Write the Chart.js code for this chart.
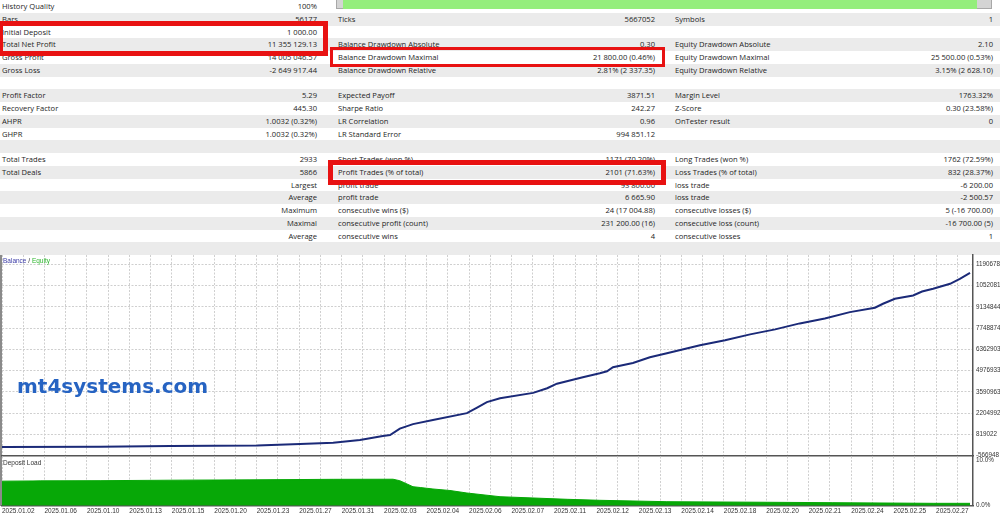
<!DOCTYPE html>
<html>
<head>
<meta charset="utf-8">
<script src="https://cdn.jsdelivr.net/npm/chart.js@4.4.1/dist/chart.umd.min.js"></script>
<style>
body { margin: 0; width: 1000px; height: 517px; overflow: hidden; background: #fff; position: relative; font-family: 'Open Sans', sans-serif; }
.row { position: absolute; left: 0; width: 1000px; height: 12.75px; }
.row.g { background: #ebebeb; }
.t { position: absolute; top: 0; line-height: 12.75px; font-size: 7.6px; color: #1e1e1e; white-space: nowrap; }
.box { position: absolute; box-sizing: border-box; border: 5px solid #e81212; }
.lbl { position: absolute; font-family: 'Liberation Sans', sans-serif; font-size: 6.5px; line-height: 8px; color: #333; white-space: nowrap; }
#bal, #load { position: absolute; left: 0; }
</style>
</head>
<body>
<div id="table"></div>
<div style="position:absolute;left:336px;top:-1px;width:656px;height:10px;border:1px solid #a8a8a8;background:#d4d4d4;box-sizing:border-box"></div>
<div style="position:absolute;left:343px;top:0;width:634px;height:8.5px;background:#94ee7c"></div>

<div style="position:absolute;left:0;top:255px;width:2px;height:251px;background:#8a8a8a"></div>
<canvas id="bal" width="1000" height="203" style="top:254px"></canvas>
<canvas id="load" width="1000" height="61" style="top:456px"></canvas>
<div class="lbl" style="left:3px;top:256.5px"><span style="color:#3b3ba6">Balance</span> / <span style="color:#2cb52c">Equity</span></div>
<div class="lbl" style="left:3px;top:458.5px">Deposit Load</div>
<div style="position:absolute;left:17px;top:376.4px;font-family:'DejaVu Sans',sans-serif;font-weight:bold;font-size:20px;line-height:20px;color:#2663c2">mt4systems.com</div>

<div class="box" style="left:-2px;top:21px;width:330px;height:35px"></div>
<div class="box" style="left:330px;top:47px;width:335px;height:20px;border-width:3.5px"></div>
<div class="box" style="left:328px;top:160px;width:338px;height:24.5px"></div>

<script>
// report table: label, value, label, value, label, value
const tableRows = [
    ['History Quality', '100%', '', '', '', ''],
    ['Bars', '56177', 'Ticks', '5667052', 'Symbols', '1'],
    ['Initial Deposit', '1 000.00', '', '', '', ''],
    ['Total Net Profit', '11 355 129.13', 'Balance Drawdown Absolute', '0.30', 'Equity Drawdown Absolute', '2.10'],
    ['Gross Profit', '14 005 046.57', 'Balance Drawdown Maximal', '21 800.00 (0.46%)', 'Equity Drawdown Maximal', '25 500.00 (0.53%)'],
    ['Gross Loss', '-2 649 917.44', 'Balance Drawdown Relative', '2.81% (2 337.35)', 'Equity Drawdown Relative', '3.15% (2 628.10)'],
    ['', '', '', '', '', ''],
    ['Profit Factor', '5.29', 'Expected Payoff', '3871.51', 'Margin Level', '1763.32%'],
    ['Recovery Factor', '445.30', 'Sharpe Ratio', '242.27', 'Z-Score', '0.30 (23.58%)'],
    ['AHPR', '1.0032 (0.32%)', 'LR Correlation', '0.96', 'OnTester result', '0'],
    ['GHPR', '1.0032 (0.32%)', 'LR Standard Error', '994 851.12', '', ''],
    ['', '', '', '', '', ''],
    ['Total Trades', '2933', 'Short Trades (won %)', '1171 (70.20%)', 'Long Trades (won %)', '1762 (72.59%)'],
    ['Total Deals', '5866', 'Profit Trades (% of total)', '2101 (71.63%)', 'Loss Trades (% of total)', '832 (28.37%)'],
    ['', 'Largest', 'profit trade', '93 800.00', 'loss trade', '-6 200.00'],
    ['', 'Average', 'profit trade', '6 665.90', 'loss trade', '-2 500.57'],
    ['', 'Maximum', 'consecutive wins ($)', '24 (17 004.88)', 'consecutive losses ($)', '5 (-16 700.00)'],
    ['', 'Maximal', 'consecutive profit (count)', '231 200.00 (16)', 'consecutive loss (count)', '-16 700.00 (5)'],
    ['', 'Average', 'consecutive wins', '4', 'consecutive losses', '1'],
    ['', '', '', '', '', '']
];

const dateLabels = ['2025.01.02', '2025.01.06', '2025.01.10', '2025.01.13', '2025.01.15', '2025.01.20',
    '2025.01.23', '2025.01.27', '2025.01.31', '2025.02.03', '2025.02.04', '2025.02.06', '2025.02.07',
    '2025.02.11', '2025.02.12', '2025.02.13', '2025.02.14', '2025.02.18', '2025.02.20', '2025.02.21',
    '2025.02.24', '2025.02.25', '2025.02.27'];

// x is measured in date-label slots (0 = 2025.01.02)
const balanceX = [0, 2.31, 3.96, 6.01, 7.02, 7.80, 8.43, 8.97, 9.14, 9.37, 9.68, 10.15, 10.95, 11.19,
    11.42, 11.73, 12.51, 12.84, 13.07, 13.68, 14.08, 14.25, 14.39, 14.86, 15.26, 15.66, 16.44, 17.03,
    17.62, 18.21, 18.79, 19.38, 19.97, 20.56, 20.75, 21.03, 21.46, 21.67, 21.93, 22.33, 22.56, 22.80];
const balanceY = [1000, 12000, 58000, 90000, 188000, 272000, 448000, 708000, 773000, 1196000, 1489000,
    1750000, 2205000, 2563000, 2921000, 3181000, 3526000, 3832000, 4125000, 4547000, 4808000, 4938000,
    5198000, 5478000, 5849000, 6109000, 6630000, 6955000, 7345000, 7671000, 8061000, 8387000, 8796000,
    9083000, 9343000, 9668000, 9883000, 10143000, 10319000, 10644000, 10970000, 11356129];

const loadX = [0, 0.73, 0.90, 2.31, 4.26, 5.84, 7.80, 9.21, 9.37, 9.68, 9.85, 10.15, 10.55, 10.95,
    11.73, 13.31, 14.08, 15.66, 18.02, 19.57, 21.93, 22.80];
const loadY = [5.45, 5.50, 5.52, 5.56, 5.68, 5.74, 5.86, 5.88, 5.55, 4.22, 4.04, 3.71, 3.38, 2.82,
    2.00, 1.42, 1.20, 0.89, 0.76, 0.67, 0.53, 0.53];

const balanceTicks = [-566948, 819022, 2204992, 3590963, 4976933, 6362903, 7748874, 9134844, 10520814, 11906785];
const loadTicks = [0, 10];

// build table
const table = document.getElementById('table');
const cols = [[2, 'left'], [317, 'right'], [338, 'left'], [655, 'right'], [675, 'left'], [993, 'right']];
tableRows.forEach((r, i) => {
    const row = document.createElement('div');
    row.className = 'row' + (i % 2 ? ' g' : '');
    row.style.top = (i * 12.75) + 'px';
    r.forEach((txt, c) => {
        if (!txt) return;
        const s = document.createElement('div');
        s.className = 't';
        s.textContent = txt;
        if (cols[c][1] === 'left') s.style.left = cols[c][0] + 'px';
        else s.style.right = (1000 - cols[c][0]) + 'px';
        row.appendChild(s);
    });
    table.appendChild(row);
});

const xMax = 22.87;
const gridX = [];
for (let k = 0; k <= 45; k++) gridX.push(k * 0.5);

const gridColor = '#cfcfcf';
const axisFont = { family: 'Liberation Sans', size: 6.3 };

new Chart(document.getElementById('bal'), {
    type: 'line',
    data: {
        datasets: [{
            data: balanceX.map((x, i) => ({ x: x, y: balanceY[i] })),
            borderColor: '#1b2a78',
            borderWidth: 2,
            pointRadius: 0,
            tension: 0
        }]
    },
    options: {
        responsive: false,
        animation: false,
        layout: { padding: { left: 2, top: 1, right: 0, bottom: 0 } },
        plugins: { legend: { display: false }, tooltip: { enabled: false } },
        scales: {
            x: {
                type: 'linear', min: 0, max: xMax,
                afterBuildTicks: s => { s.ticks = gridX.map(v => ({ value: v })); },
                ticks: { display: false },
                grid: { color: gridColor, drawTicks: false },
                border: { color: '#555', width: 1.5, dash: [2, 1.5] },
                afterFit: s => { s.height = 1.4; s.paddingLeft = 0; s.paddingRight = 0; }
            },
            y: {
                position: 'right', min: -566948, max: 12524800,
                afterBuildTicks: s => { s.ticks = balanceTicks.map(v => ({ value: v })); },
                ticks: { font: axisFont, color: '#333', padding: 3, callback: v => String(v) },
                grid: { color: gridColor, drawTicks: false },
                border: { color: '#555', width: 1.5, dash: [2, 1.5] },
                afterFit: s => { s.width = 27; s.paddingTop = 0; s.paddingBottom = 0; }
            }
        }
    }
});

new Chart(document.getElementById('load'), {
    type: 'line',
    data: {
        datasets: [{
            data: loadX.map((x, i) => ({ x: x, y: loadY[i] })),
            borderColor: '#07a807',
            backgroundColor: '#07a807',
            borderWidth: 1,
            fill: 'origin',
            pointRadius: 0,
            tension: 0
        }]
    },
    options: {
        responsive: false,
        animation: false,
        layout: { padding: { left: 2, top: 0.5, right: 0, bottom: 0 } },
        plugins: { legend: { display: false }, tooltip: { enabled: false } },
        scales: {
            x: {
                type: 'linear', min: 0, max: xMax,
                afterBuildTicks: s => { s.ticks = gridX.map(v => ({ value: v })); },
                ticks: {
                    autoSkip: false, maxRotation: 0, align: 'start', padding: 1.5,
                    font: { family: 'Liberation Sans', size: 6.5 }, color: '#333',
                    callback: v => Number.isInteger(v) ? dateLabels[v] : ''
                },
                grid: { color: gridColor, drawTicks: false },
                border: { color: '#555', width: 1.5, dash: [2, 1.5] },
                afterFit: s => { s.height = 11.3; s.paddingLeft = 0; s.paddingRight = 0; }
            },
            y: {
                position: 'right', min: 0, max: 10.93,
                afterBuildTicks: s => { s.ticks = loadTicks.map(v => ({ value: v })); },
                ticks: { font: axisFont, color: '#333', padding: 3, callback: v => v.toFixed(1) + '%' },
                grid: { display: false, drawTicks: false },
                border: { color: '#555', width: 1.5 },
                afterFit: s => { s.width = 27; s.paddingTop = 0; s.paddingBottom = 0; }
            }
        }
    }
});
</script>
</body>
</html>
